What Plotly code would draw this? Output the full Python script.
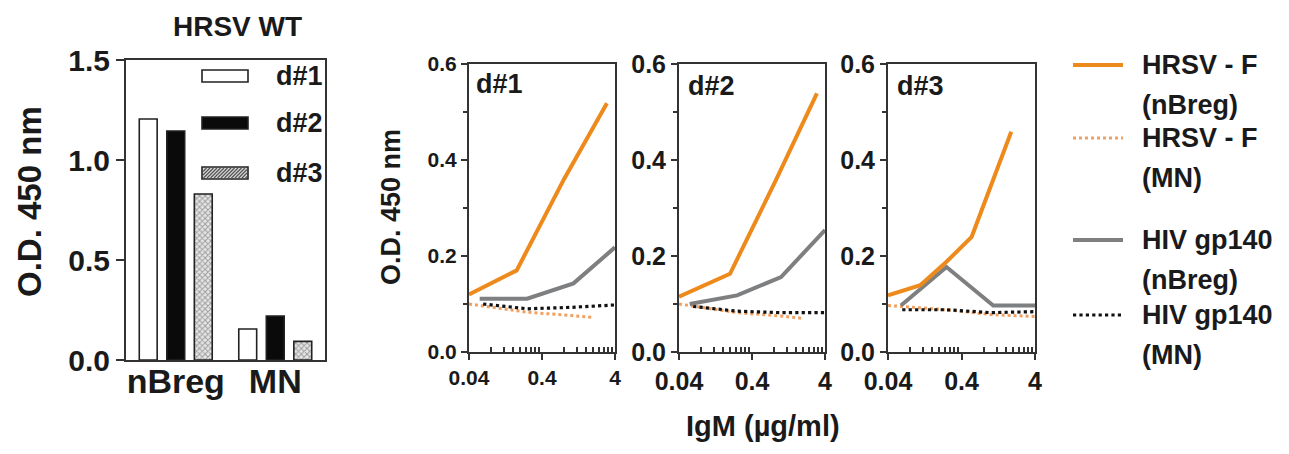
import plotly.graph_objects as go

# page body adds an 8px margin: size the figure so that it fits the window
OFF = 8
W, H = 1289 - OFF, 454 - OFF

# ---------------- data ----------------
bar_categories = ["nBreg", "MN"]
bar_donors = ["d#1", "d#2", "d#3"]
bar_d1 = [1.205, 0.155]
bar_d2 = [1.145, 0.22]
bar_d3 = [0.83, 0.093]

# HRSV-F (nBreg)
d1_hrsv_nbreg_x = [0.04, 0.18, 0.8, 3.1]
d1_hrsv_nbreg_y = [0.12, 0.17, 0.36, 0.518]
d2_hrsv_nbreg_x = [0.04, 0.2, 0.85, 3.1]
d2_hrsv_nbreg_y = [0.115, 0.163, 0.358, 0.539]
d3_hrsv_nbreg_x = [0.04, 0.11, 0.25, 0.55, 1.9]
d3_hrsv_nbreg_y = [0.118, 0.139, 0.188, 0.24, 0.459]

# HRSV-F (MN)
d1_hrsv_mn_x = [0.04, 0.25, 1, 2]
d1_hrsv_mn_y = [0.1, 0.083, 0.076, 0.072]
d2_hrsv_mn_x = [0.04, 0.25, 1, 2]
d2_hrsv_mn_y = [0.1, 0.082, 0.075, 0.07]
d3_hrsv_mn_x = [0.04, 0.25, 1, 4]
d3_hrsv_mn_y = [0.097, 0.088, 0.078, 0.074]

# HIV gp140 (nBreg)
d1_hiv_nbreg_x = [0.056, 0.25, 1.08, 4]
d1_hiv_nbreg_y = [0.111, 0.111, 0.143, 0.218]
d2_hiv_nbreg_x = [0.056, 0.25, 1.0, 4]
d2_hiv_nbreg_y = [0.1, 0.118, 0.156, 0.254]
d3_hiv_nbreg_x = [0.06, 0.25, 1.08, 4]
d3_hiv_nbreg_y = [0.097, 0.177, 0.097, 0.097]

# HIV gp140 (MN)
d1_hiv_mn_x = [0.0625, 0.25, 1, 4]
d1_hiv_mn_y = [0.1, 0.09, 0.093, 0.098]
d2_hiv_mn_x = [0.0625, 0.25, 1, 4]
d2_hiv_mn_y = [0.095, 0.085, 0.082, 0.082]
d3_hiv_mn_x = [0.0625, 0.25, 1, 4]
d3_hiv_mn_y = [0.088, 0.088, 0.082, 0.084]

panel_labels = ["d#1", "d#2", "d#3"]
line_x_ticks = [0.04, 0.4, 4]
line_x_ticktext = ["0.04", "0.4", "4"]
line_x_minor = [0.08, 0.12, 0.16, 0.2, 0.24, 0.28, 0.32, 0.36,
                0.8, 1.2, 1.6, 2.0, 2.4, 2.8, 3.2, 3.6]
line_y_ticks = [0, 0.2, 0.4, 0.6]
line_y_ticktext = ["0.0", "0.2", "0.4", "0.6"]
bar_y_ticks = [0, 0.5, 1.0, 1.5]
bar_y_ticktext = ["0.0", "0.5", "1.0", "1.5"]

legend_labels = [("HRSV - F", "(nBreg)"), ("HRSV - F", "(MN)"),
                 ("HIV gp140", "(nBreg)"), ("HIV gp140", "(MN)")]

# ---------------- style ----------------
FONT = "Liberation Sans, Arial, Helvetica, sans-serif"
TXT = "#1a1a1a"
AX = "#333333"
ORANGE = "#EE8A1C"
ORANGE_DOT = "#F0A060"
GRAY = "#7d7f80"
BLACK = "#111111"


def px(x):
    return (x - OFF) / W


def py(y):
    return 1 - (y - OFF) / H


fig = go.Figure()

# ---------------- bar chart ----------------
fig.add_trace(go.Bar(x=bar_categories, y=bar_d1, name="d#1",
                     marker=dict(color="white", line=dict(color="#222", width=1.6)),
                     xaxis="x", yaxis="y", showlegend=False))
fig.add_trace(go.Bar(x=bar_categories, y=bar_d2, name="d#2",
                     marker=dict(color="#0a0a0a", line=dict(color="#222", width=1.6)),
                     xaxis="x", yaxis="y", showlegend=False))
fig.add_trace(go.Bar(x=bar_categories, y=bar_d3, name="d#3",
                     marker=dict(color="#cfcfcf", line=dict(color="#222", width=1.6),
                                 pattern=dict(shape="x", size=4, solidity=0.45,
                                              fgcolor="#555555", bgcolor="#e6e6e6")),
                     xaxis="x", yaxis="y", showlegend=False))

# ---------------- line panels ----------------
panels = [
    (d1_hrsv_nbreg_x, d1_hrsv_nbreg_y, d1_hrsv_mn_x, d1_hrsv_mn_y,
     d1_hiv_nbreg_x, d1_hiv_nbreg_y, d1_hiv_mn_x, d1_hiv_mn_y),
    (d2_hrsv_nbreg_x, d2_hrsv_nbreg_y, d2_hrsv_mn_x, d2_hrsv_mn_y,
     d2_hiv_nbreg_x, d2_hiv_nbreg_y, d2_hiv_mn_x, d2_hiv_mn_y),
    (d3_hrsv_nbreg_x, d3_hrsv_nbreg_y, d3_hrsv_mn_x, d3_hrsv_mn_y,
     d3_hiv_nbreg_x, d3_hiv_nbreg_y, d3_hiv_mn_x, d3_hiv_mn_y),
]
for i, p in enumerate(panels):
    xa = f"x{i + 2}"
    ya = f"y{i + 2}"
    (hnx, hny, hmx, hmy, gnx, gny, gmx, gmy) = p
    fig.add_trace(go.Scatter(x=hmx, y=hmy, mode="lines", xaxis=xa, yaxis=ya,
                             line=dict(color=ORANGE_DOT, width=3, dash="dot"),
                             showlegend=False))
    fig.add_trace(go.Scatter(x=gmx, y=gmy, mode="lines", xaxis=xa, yaxis=ya,
                             line=dict(color=BLACK, width=3.2, dash="dot"),
                             showlegend=False))
    fig.add_trace(go.Scatter(x=gnx, y=gny, mode="lines", xaxis=xa, yaxis=ya,
                             line=dict(color=GRAY, width=4),
                             showlegend=False))
    fig.add_trace(go.Scatter(x=hnx, y=hny, mode="lines", xaxis=xa, yaxis=ya,
                             line=dict(color=ORANGE, width=4),
                             showlegend=False))

# ---------------- layout ----------------
layout = dict(
    width=W, height=H,
    margin=dict(l=0, r=0, t=0, b=0, autoexpand=False),
    paper_bgcolor="white", plot_bgcolor="white",
    font=dict(family=FONT, color=TXT),
    barmode="group", bargap=0.17, bargroupgap=0.35,
    showlegend=False,
)

bar_tick_font = dict(family=FONT, size=30, color=TXT, weight="bold")
layout["xaxis"] = dict(domain=[px(126), px(325)], range=[-0.5, 1.5], anchor="y",
                       showline=True, linecolor=AX, linewidth=2, mirror=True,
                       ticks="", ticklabelstandoff=-10,
                       tickfont=dict(family=FONT, size=34, color=TXT, weight="bold"),
                       showgrid=False, zeroline=False, fixedrange=True,
                       automargin=False)
layout["yaxis"] = dict(domain=[py(360), py(60)], range=[0, 1.5], anchor="x",
                       showline=True, linecolor=AX, linewidth=2, mirror=True,
                       ticks="outside", ticklen=8, tickwidth=2, tickcolor=AX,
                       tickvals=bar_y_ticks, ticktext=bar_y_ticktext,
                       tickfont=bar_tick_font, showgrid=False, zeroline=False,
                       automargin=False)

x_domains = [(469, 615), (679, 825), (888, 1035)]
for i, (a, b) in enumerate(x_domains):
    n = i + 2
    tf_size = 21 if i == 0 else 25
    tfont = dict(family=FONT, size=tf_size, color=TXT, weight="bold")
    layout[f"xaxis{n}"] = dict(
        domain=[px(a), px(b)], type="log", range=[-1.39794, 0.60206],
        anchor=f"y{n}", showline=True, linecolor=AX, linewidth=2, mirror=True,
        ticks="outside", ticklen=6, tickwidth=2, tickcolor=AX,
        tickvals=line_x_ticks, ticktext=line_x_ticktext, tickfont=tfont,
        minor=dict(tickvals=line_x_minor, ticks="inside", ticklen=5,
                   tickwidth=1.5, tickcolor=AX, showgrid=False),
        showgrid=False, zeroline=False, automargin=False)
    layout[f"yaxis{n}"] = dict(
        domain=[py(352), py(64)], range=[0, 0.6], anchor=f"x{n}",
        showline=True, linecolor=AX, linewidth=2, mirror=True,
        ticks="outside", ticklen=6, tickwidth=2, tickcolor=AX,
        tickvals=line_y_ticks, ticktext=line_y_ticktext, tickfont=tfont,
        minor=dict(tickvals=[0.1, 0.3, 0.5], ticks="outside", ticklen=4,
                   tickwidth=1.5, tickcolor=AX, showgrid=False),
        showgrid=False, zeroline=False, automargin=False)

fig.update_layout(**layout)

# ---------------- annotations ----------------
ann = []


def text(x, y, s, size, xanchor="center", yanchor="middle", angle=0):
    ann.append(dict(x=px(x), y=py(y), xref="paper", yref="paper", text=s,
                    showarrow=False, xanchor=xanchor, yanchor=yanchor,
                    textangle=angle,
                    font=dict(family=FONT, size=size, color=TXT, weight="bold")))


text(237, 26, "HRSV WT", 28)
text(30, 202, "O.D. 450 nm", 33, angle=-90)
text(391, 207, "O.D. 450 nm", 27, angle=-90)
text(763, 426, "IgM (µg/ml)", 29)

label_pos = [(474, 84), (686, 86), (895, 86)]
for lab, (x, y) in zip(panel_labels, label_pos):
    text(x, y, lab, 27, xanchor="left")

# bar legend
bar_leg_y = [76, 123, 173]
for lab, y in zip(bar_donors, bar_leg_y):
    text(274, y, lab, 27, xanchor="left")

# right legend
leg_y = [65, 138, 240, 315]
for (l1, l2), y in zip(legend_labels, leg_y):
    text(1140, y, l1, 27, xanchor="left")
    text(1140, y + 40, l2, 27, xanchor="left")

fig.update_layout(annotations=ann)

# ---------------- legend shapes ----------------
shapes = []
shapes.append(dict(type="rect", xref="paper", yref="paper",
                   x0=px(202), x1=px(248), y0=py(82), y1=py(70),
                   fillcolor="white", line=dict(color="#222", width=1.6)))
shapes.append(dict(type="rect", xref="paper", yref="paper",
                   x0=px(202), x1=px(248), y0=py(129), y1=py(117),
                   fillcolor="#0a0a0a", line=dict(color="#222", width=1.6)))
shapes.append(dict(type="rect", xref="paper", yref="paper",
                   x0=px(202), x1=px(248), y0=py(179), y1=py(167),
                   fillcolor="#d8d8d8", line=dict(color="#222", width=1.6)))
bx0, bx1, by0, by1 = 203, 247, 168, 178
path = ""
c = bx0 - (by1 - by0)
while c < bx1:
    h = by1 - by0
    xa, ya_, xb, yb = c, by1, c + h, by0
    if xa < bx0:
        ya_ = by1 - (bx0 - xa)
        xa = bx0
    if xb > bx1:
        yb = by0 + (xb - bx1)
        xb = bx1
    if xb > xa:
        path += f"M{px(xa)},{py(ya_)} L{px(xb)},{py(yb)} "
    c += 3.5
shapes.append(dict(type="path", xref="paper", yref="paper", path=path,
                   line=dict(color="#555", width=1.2)))

leg_styles = [(ORANGE, 4, "solid"), (ORANGE_DOT, 3, "dot"),
              (GRAY, 4, "solid"), (BLACK, 3.2, "dot")]
for (col, wdt, dash), y in zip(leg_styles, leg_y):
    shapes.append(dict(type="line", xref="paper", yref="paper",
                       x0=px(1073), x1=px(1123), y0=py(y), y1=py(y),
                       line=dict(color=col, width=wdt, dash=dash)))

fig.update_layout(shapes=shapes)

fig.write_html("out.html")
